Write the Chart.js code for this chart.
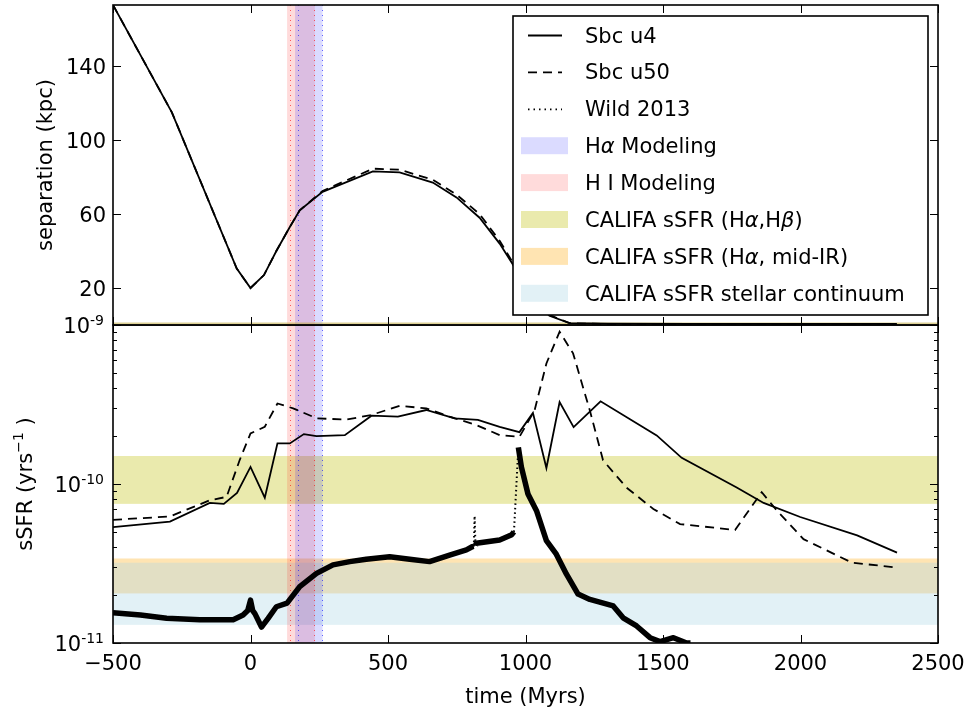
<!DOCTYPE html>
<html>
<head>
<meta charset="utf-8">
<script src="https://cdn.jsdelivr.net/npm/chart.js@4.4.1/dist/chart.umd.min.js"></script>
<style>
  html, body { margin: 0; padding: 0; background: #fff; }
  #wrap { position: relative; width: 972px; height: 709px; }
  #wrap canvas { position: absolute; left: 0; top: 0; }
</style>
</head>
<body>
<div id="wrap">
  <canvas id="chart-ssfr" width="972" height="709"></canvas>
  <canvas id="chart-sep" width="972" height="709"></canvas>
</div>
<script>
// ---- data ----
const xTicks = [-500, 0, 500, 1000, 1500, 2000, 2500];
const sepTicks = [20, 60, 100, 140];
const ssfrMajor = [1e-11, 1e-10, 1e-9];
const ssfrMajorExp = ['-11', '-10', '-9'];
const ssfrMinor = [2e-11, 3e-11, 4e-11, 5e-11, 6e-11, 7e-11, 8e-11, 9e-11,
  2e-10, 3e-10, 4e-10, 5e-10, 6e-10, 7e-10, 8e-10, 9e-10];

// separation (kpc)
const sepTimeU4 = [-500, -286, -50, 0, 49, 94, 143, 179, 262, 445, 542, 663, 749, 833, 906, 953, 1015, 1087, 1160, 1300, 1600, 2000, 2350];
const sepU4 = [173, 115, 30.5, 20, 27, 40, 53, 62, 72, 83, 82.5, 77, 69, 58, 44, 33, 16, 5, 1, 0.7, 0.6, 0.6, 0.6];
const sepTimeU50 = [-500, -286, -50, 0, 49, 94, 143, 179, 262, 445, 542, 663, 749, 833, 906, 953, 1015, 1087, 1160, 1300, 1600, 2000, 2350];
const sepU50 = [173, 115, 30.5, 20, 27, 40, 53, 62, 72.5, 84.5, 84, 78.5, 70.5, 60, 45.5, 34, 17, 5.5, 1, 0.5, 0.5, 0.5, 0.5];

// sSFR (yr^-1)
const ssfrTimeU4 = [-500, -293, -148, -97, -49, 0, 52, 98, 143, 194, 240, 343, 440, 536, 639, 742, 827, 906, 978, 1027, 1076, 1124, 1175, 1273, 1477, 1568, 1768, 1866, 1999, 2206, 2351];
const ssfrU4 = [5.35e-11, 5.8e-11, 7.6e-11, 7.5e-11, 8.8e-11, 1.28e-10, 8.2e-11, 1.8e-10, 1.8e-10, 2.06e-10, 2.0e-10, 2.03e-10, 2.69e-10, 2.65e-10, 2.92e-10, 2.59e-10, 2.53e-10, 2.29e-10, 2.12e-10, 2.8e-10, 1.26e-10, 3.28e-10, 2.28e-10, 3.31e-10, 2.02e-10, 1.46e-10, 9.5e-11, 7.6e-11, 6.2e-11, 4.75e-11, 3.7e-11];
const ssfrTimeU50 = [-500, -293, -148, -87, -39, 0, 52, 98, 155, 240, 349, 440, 542, 639, 724, 821, 906, 978, 1033, 1076, 1124, 1173, 1234, 1282, 1367, 1465, 1562, 1762, 1859, 1914, 2011, 2187, 2345];
const ssfrU50 = [5.95e-11, 6.25e-11, 7.9e-11, 8.3e-11, 1.42e-10, 2.08e-10, 2.29e-10, 3.21e-10, 2.99e-10, 2.59e-10, 2.54e-10, 2.72e-10, 3.1e-10, 2.99e-10, 2.65e-10, 2.35e-10, 2.03e-10, 1.98e-10, 2.9e-10, 5.73e-10, 9.08e-10, 6.63e-10, 2.9e-10, 1.41e-10, 9.5e-11, 6.96e-11, 5.6e-11, 5.14e-11, 8.88e-11, 6.81e-11, 4.5e-11, 3.2e-11, 2.99e-11];
const wildTime = [-500, -400, -305, -184, -63, -27, -10, 0, 8, 16, 40, 64, 94, 133, 179, 240, 300, 361, 421, 506, 579, 651, 724, 785, 806, 812, 815, 818, 821, 906, 950, 958, 974, 985, 1009, 1040, 1076, 1112, 1149, 1191, 1234, 1319, 1355, 1404, 1453, 1489, 1538, 1586, 1600];
const wildSSFR = [1.55e-11, 1.5e-11, 1.43e-11, 1.4e-11, 1.4e-11, 1.5e-11, 1.6e-11, 1.86e-11, 1.6e-11, 1.53e-11, 1.26e-11, 1.43e-11, 1.69e-11, 1.78e-11, 2.26e-11, 2.74e-11, 3.1e-11, 3.25e-11, 3.36e-11, 3.49e-11, 3.36e-11, 3.25e-11, 3.57e-11, 3.85e-11, 4.03e-11, 4.05e-11, 6.3e-11, 4.1e-11, 4.24e-11, 4.45e-11, 4.8e-11, 5.0e-11, 1.7e-10, 1.28e-10, 8.65e-11, 6.8e-11, 4.4e-11, 3.62e-11, 2.71e-11, 2.03e-11, 1.88e-11, 1.71e-11, 1.44e-11, 1.28e-11, 1.08e-11, 1.02e-11, 1.08e-11, 1.0e-11, 1.0e-11];

// shaded ranges
const haBand = [162, 262];
const haEdges = [173, 260];
const hiBand = [133, 234];
const hiEdges = [145, 231];
const califaHaHb = [7.5e-11, 1.5e-10];
const califaMidIR = [2.05e-11, 3.4e-11];
const califaStellar = [1.3e-11, 3.2e-11];

const FONT = '"DejaVu Sans", sans-serif';
const C_HA = 'rgba(0,0,255,0.14)';
const C_HI = 'rgba(255,0,0,0.14)';
const C_YEL = 'rgba(191,191,0,0.32)';
const C_ORA = 'rgba(255,165,0,0.3)';
const C_LBL = 'rgba(173,216,230,0.35)';

const pts = (xs, ys) => xs.map((x, i) => ({ x, y: ys[i] }));

function drawRuns(ctx, runs, x, y, size, align) {
  const fontFor = r => `${r.it ? 'italic ' : ''}${r.sup ? Math.round(size * 0.68) : size}px ${FONT}`;
  let total = 0;
  runs.forEach(r => { ctx.font = fontFor(r); r.w = ctx.measureText(r.t).width; total += r.w; });
  let cx = align === 'right' ? x - total : align === 'center' ? x - total / 2 : x;
  ctx.textAlign = 'left';
  ctx.textBaseline = 'alphabetic';
  runs.forEach(r => {
    ctx.font = fontFor(r);
    ctx.fillText(r.t, cx, r.sup ? y - size * 0.42 : y);
    cx += r.w;
  });
}

function drawVerticalBands(chart) {
  const { ctx, chartArea: a } = chart;
  const x = chart.scales.x;
  ctx.save();
  [[hiBand, C_HI], [haBand, C_HA]].forEach(([b, c]) => {
    const l = x.getPixelForValue(b[0]), r = x.getPixelForValue(b[1]);
    ctx.fillStyle = c;
    ctx.fillRect(l, a.top, r - l, a.bottom - a.top);
  });
  ctx.lineWidth = 1;
  ctx.setLineDash([1, 4]);
  [[hiEdges, 'rgba(255,0,0,0.6)'], [haEdges, 'rgba(0,0,255,0.6)']].forEach(([e, c]) => {
    ctx.strokeStyle = c;
    e.forEach(v => {
      const px = Math.round(x.getPixelForValue(v)) + 0.5;
      ctx.beginPath();
      ctx.moveTo(px, a.top);
      ctx.lineTo(px, a.bottom);
      ctx.stroke();
    });
  });
  ctx.restore();
}

function drawFrameAndXTicks(chart) {
  const { ctx, chartArea: a } = chart;
  const x = chart.scales.x;
  ctx.save();
  ctx.strokeStyle = '#000';
  ctx.lineWidth = 1;
  ctx.beginPath();
  xTicks.forEach(v => {
    const px = Math.round(x.getPixelForValue(v)) + 0.5;
    ctx.moveTo(px, a.bottom); ctx.lineTo(px, a.bottom - 8);
    ctx.moveTo(px, a.top); ctx.lineTo(px, a.top + 8);
  });
  ctx.stroke();
  ctx.lineWidth = 1.6;
  ctx.strokeRect(a.left, a.top, a.right - a.left, a.bottom - a.top);
  ctx.restore();
}

function drawYTicks(chart, values, len) {
  const { ctx, chartArea: a } = chart;
  const y = chart.scales.y;
  ctx.save();
  ctx.strokeStyle = '#000';
  ctx.lineWidth = 1;
  ctx.beginPath();
  values.forEach(v => {
    const py = Math.round(y.getPixelForValue(v)) + 0.5;
    ctx.moveTo(a.left, py); ctx.lineTo(a.left + len, py);
    ctx.moveTo(a.right, py); ctx.lineTo(a.right - len, py);
  });
  ctx.stroke();
  ctx.restore();
}

const legendRows = [
  { kind: 'line', dash: [], runs: [{ t: 'Sbc u4' }] },
  { kind: 'line', dash: [9, 6], runs: [{ t: 'Sbc u50' }] },
  { kind: 'line', dash: [1.5, 4], runs: [{ t: 'Wild 2013' }] },
  { kind: 'patch', color: C_HA, runs: [{ t: 'H' }, { t: '\u03b1', it: true }, { t: ' Modeling' }] },
  { kind: 'patch', color: C_HI, runs: [{ t: 'H I Modeling' }] },
  { kind: 'patch', color: C_YEL, runs: [{ t: 'CALIFA sSFR (H' }, { t: '\u03b1', it: true }, { t: ',H' }, { t: '\u03b2', it: true }, { t: ')' }] },
  { kind: 'patch', color: C_ORA, runs: [{ t: 'CALIFA sSFR (H' }, { t: '\u03b1', it: true }, { t: ', mid-IR)' }] },
  { kind: 'patch', color: C_LBL, runs: [{ t: 'CALIFA sSFR stellar continuum' }] },
];

const sepDecor = {
  id: 'sepDecor',
  beforeDatasetsDraw(chart) {
    const { ctx, chartArea: a } = chart;
    drawVerticalBands(chart);
    // CALIFA spans collapse to a thin line at separation ~ 0
    ctx.save();
    ctx.fillStyle = 'rgba(191,170,60,0.55)';
    ctx.fillRect(a.left, a.bottom - 2.5, a.right - a.left, 2);
    ctx.restore();
  },
  afterDraw(chart) {
    const { ctx, chartArea: a } = chart;
    const y = chart.scales.y;
    drawFrameAndXTicks(chart);
    drawYTicks(chart, sepTicks, 8);
    ctx.save();
    ctx.fillStyle = '#000';
    sepTicks.forEach(v => {
      drawRuns(ctx, [{ t: String(v) }], 106, y.getPixelForValue(v) + 7.5, 21, 'right');
    });
    ctx.translate(52, (a.top + a.bottom) / 2);
    ctx.rotate(-Math.PI / 2);
    drawRuns(ctx, [{ t: 'separation (kpc)' }], 0, 0, 21, 'center');
    ctx.restore();

    // legend
    ctx.save();
    const L = 513, T = 16, R = 928, B = 315;
    ctx.fillStyle = '#fff';
    ctx.fillRect(L, T, R - L, B - T);
    ctx.strokeStyle = '#000';
    ctx.lineWidth = 1.6;
    ctx.strokeRect(L, T, R - L, B - T);
    legendRows.forEach((row, i) => {
      const cy = 35 + i * 36.9;
      if (row.kind === 'line') {
        ctx.strokeStyle = '#000';
        ctx.lineWidth = 1.8;
        ctx.setLineDash(row.dash);
        ctx.beginPath();
        ctx.moveTo(528, cy + 0.5);
        ctx.lineTo(562, cy + 0.5);
        ctx.stroke();
        ctx.setLineDash([]);
      } else {
        ctx.fillStyle = row.color;
        ctx.fillRect(521, cy - 8.5, 47, 17);
      }
      ctx.fillStyle = '#000';
      drawRuns(ctx, row.runs, 585, cy + 7.5, 21, 'left');
    });
    ctx.restore();
  },
};

function isJump(c) {
  const dx = Math.abs(c.p1.x - c.p0.x), dy = Math.abs(c.p1.y - c.p0.y);
  return dy > 12 && dy > 10 * dx;
}

const ssfrDecor = {
  id: 'ssfrDecor',
  beforeDatasetsDraw(chart) {
    const { ctx, chartArea: a } = chart;
    const y = chart.scales.y;
    ctx.save();
    [[califaHaHb, C_YEL], [califaMidIR, C_ORA], [califaStellar, C_LBL]].forEach(([b, c]) => {
      const t = y.getPixelForValue(b[1]), bo = y.getPixelForValue(b[0]);
      ctx.fillStyle = c;
      ctx.fillRect(a.left, t, a.right - a.left, bo - t);
    });
    ctx.restore();
    drawVerticalBands(chart);
  },
  afterDraw(chart) {
    const { ctx, chartArea: a } = chart;
    const x = chart.scales.x, y = chart.scales.y;
    drawFrameAndXTicks(chart);
    drawYTicks(chart, ssfrMajor, 8);
    drawYTicks(chart, ssfrMinor, 4);
    ctx.save();
    ctx.fillStyle = '#000';
    ssfrMajor.forEach((v, i) => {
      const py = y.getPixelForValue(v);
      ctx.font = `14px ${FONT}`;
      const ew = ctx.measureText(ssfrMajorExp[i]).width;
      ctx.textAlign = 'right';
      ctx.textBaseline = 'alphabetic';
      ctx.fillText(ssfrMajorExp[i], 104, py);
      ctx.font = `21px ${FONT}`;
      ctx.fillText('10', 104 - ew, py + 8);
    });
    xTicks.forEach(v => {
      const label = v < 0 ? '\u2212' + Math.abs(v) : String(v);
      drawRuns(ctx, [{ t: label }], x.getPixelForValue(v), 670, 21, 'center');
    });
    drawRuns(ctx, [{ t: 'time (Myrs)' }], (a.left + a.right) / 2, 702.5, 21, 'center');
    ctx.translate(31.5, (a.top + a.bottom) / 2);
    ctx.rotate(-Math.PI / 2);
    drawRuns(ctx, [{ t: 'sSFR (yrs' }, { t: '\u22121', sup: true }, { t: ' )' }], 0, 0, 21, 'center');
    ctx.restore();
  },
};

const hiddenX = { type: 'linear', min: -500, max: 2500, display: false };

new Chart(document.getElementById('chart-ssfr').getContext('2d'), {
  type: 'line',
  data: {
    datasets: [
      {
        label: 'Wild 2013',
        data: pts(wildTime, wildSSFR),
        borderColor: '#000',
        borderWidth: 5.5,
        borderJoinStyle: 'round',
        pointRadius: 0,
        tension: 0,
        segment: {
          borderDash: c => (isJump(c) ? [1.5, 3] : undefined),
          borderWidth: c => (isJump(c) ? 2 : undefined),
        },
      },
      {
        label: 'Sbc u50',
        data: pts(ssfrTimeU50, ssfrU50),
        borderColor: '#000',
        borderWidth: 1.8,
        borderDash: [9, 6],
        pointRadius: 0,
        tension: 0,
      },
      {
        label: 'Sbc u4',
        data: pts(ssfrTimeU4, ssfrU4),
        borderColor: '#000',
        borderWidth: 1.8,
        pointRadius: 0,
        tension: 0,
      },
    ],
  },
  options: {
    responsive: false,
    animation: false,
    devicePixelRatio: 1,
    layout: { padding: { left: 113, right: 34, top: 325, bottom: 66 } },
    plugins: { legend: { display: false }, tooltip: { enabled: false } },
    scales: {
      x: hiddenX,
      y: { type: 'logarithmic', min: 1e-11, max: 1e-9, display: false },
    },
  },
  plugins: [ssfrDecor],
});

new Chart(document.getElementById('chart-sep').getContext('2d'), {
  type: 'line',
  data: {
    datasets: [
      {
        label: 'Sbc u50',
        data: pts(sepTimeU50, sepU50),
        borderColor: '#000',
        borderWidth: 1.8,
        borderDash: [9, 6],
        pointRadius: 0,
        tension: 0,
      },
      {
        label: 'Sbc u4',
        data: pts(sepTimeU4, sepU4),
        borderColor: '#000',
        borderWidth: 1.8,
        pointRadius: 0,
        tension: 0,
      },
    ],
  },
  options: {
    responsive: false,
    animation: false,
    devicePixelRatio: 1,
    layout: { padding: { left: 113, right: 34, top: 5, bottom: 384 } },
    plugins: { legend: { display: false }, tooltip: { enabled: false } },
    scales: {
      x: hiddenX,
      y: { type: 'linear', min: 0, max: 173, display: false },
    },
  },
  plugins: [sepDecor],
});
</script>
</body>
</html>
